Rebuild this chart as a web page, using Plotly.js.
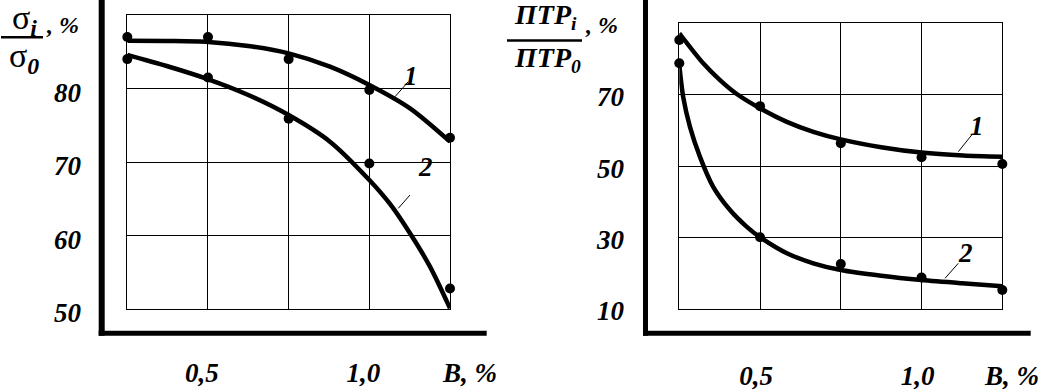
<!DOCTYPE html>
<html>
<head>
<meta charset="utf-8">
<script src="https://cdn.plot.ly/plotly-3.0.1.min.js"></script>
<style>html,body{margin:0;padding:0;background:#fff;}#chart{width:1040px;height:391px;}</style>
</head>
<body>
<div id="chart"></div>
<script>
// ---- data ----
const xPoints = [0.25, 0.5, 0.75, 1.0, 1.25];
const sigma1Points = [87.0, 87.0, 84.0, 79.8, 73.3];
const sigma2Points = [84.0, 81.5, 75.9, 69.8, 52.8];
const sigma1CurveX = [0.25, 0.372, 0.501, 0.625, 0.75, 0.878, 1.0, 1.126, 1.25];
const sigma1CurveY = [86.5, 86.46, 86.33, 85.78, 84.78, 82.97, 80.48, 77.3, 72.77];
const sigma2CurveX = [0.25, 0.372, 0.501, 0.625, 0.75, 0.878, 1.0, 1.064, 1.126, 1.188, 1.25];
const sigma2CurveY = [84.56, 83.06, 81.25, 79.12, 76.39, 72.77, 67.55, 64.29, 60.3, 55.76, 50.1];

const ptr1Points = [85.3, 66.8, 56.4, 52.5, 50.6];
const ptr2Points = [78.8, 30.1, 22.6, 18.8, 15.3];
const ptr1CurveX = [0.25, 0.324, 0.376, 0.428, 0.5, 0.583, 0.665, 0.75, 0.875, 1.0, 1.129, 1.25];
const ptr1CurveY = [87.2, 78.8, 74.1, 70.2, 66.2, 62.4, 59.6, 57.5, 55.3, 53.8, 53.0, 52.65];
const ptr2CurveX = [0.25, 0.262, 0.283, 0.314, 0.355, 0.407, 0.459, 0.5, 0.583, 0.665, 0.75, 0.875, 1.0, 1.125, 1.25];
const ptr2CurveY = [78.3, 69.4, 61.0, 52.6, 44.2, 37.7, 33.0, 30.1, 25.6, 22.8, 20.9, 19.3, 18.1, 17.2, 16.4];

const xTickVals = [0.5, 1.0];
const xTickText = ['0,5', '1,0'];
const ySigmaTickVals = [50, 60, 70, 80];
const ySigmaTickText = ['50', '60', '70', '80'];
const yPtrTickVals = [10, 30, 50, 70];
const yPtrTickText = ['10', '30', '50', '70'];
const xAxisLabel = 'В, %';
const curveNames = ['1', '2'];

// ---- helpers ----
const W = 1040, H = 391;
const px = x => x / W;
const py = y => 1 - y / H;
const SERIF = 'Liberation Serif, "Times New Roman", Times, serif';
const serifBI = (size) => ({family: SERIF, size: size, color: '#000', weight: 'bold', style: 'italic'});

const lineStyle = {color: '#000', width: 4.5, shape: 'spline', smoothing: 0.8};
const markerStyle = {color: '#000', size: 10};

const traces = [
  {x: sigma1CurveX, y: sigma1CurveY, mode: 'lines', line: lineStyle, xaxis: 'x', yaxis: 'y', cliponaxis: false, hoverinfo: 'skip'},
  {x: sigma2CurveX, y: sigma2CurveY, mode: 'lines', line: lineStyle, xaxis: 'x', yaxis: 'y', cliponaxis: false, hoverinfo: 'skip'},
  {x: xPoints, y: sigma1Points, mode: 'markers', marker: markerStyle, xaxis: 'x', yaxis: 'y', cliponaxis: false},
  {x: xPoints, y: sigma2Points, mode: 'markers', marker: markerStyle, xaxis: 'x', yaxis: 'y', cliponaxis: false},
  {x: ptr1CurveX, y: ptr1CurveY, mode: 'lines', line: lineStyle, xaxis: 'x2', yaxis: 'y2', cliponaxis: false, hoverinfo: 'skip'},
  {x: ptr2CurveX, y: ptr2CurveY, mode: 'lines', line: lineStyle, xaxis: 'x2', yaxis: 'y2', cliponaxis: false, hoverinfo: 'skip'},
  {x: xPoints, y: ptr1Points, mode: 'markers', marker: markerStyle, xaxis: 'x2', yaxis: 'y2', cliponaxis: false},
  {x: xPoints, y: ptr2Points, mode: 'markers', marker: markerStyle, xaxis: 'x2', yaxis: 'y2', cliponaxis: false}
];

const baseAxis = {
  showgrid: true, gridcolor: '#000', gridwidth: 1,
  showline: true, mirror: true, linecolor: '#000', linewidth: 1,
  zeroline: false, ticks: '', fixedrange: true,
  tickfont: serifBI(27)
};
const minorGrid = (tick0, dtick) => ({tick0: tick0, dtick: dtick, showgrid: true, gridcolor: '#000', gridwidth: 1, ticks: ''});

const layout = {
  width: W, height: H,
  margin: {l: 0, r: 0, t: 0, b: 0, pad: 0},
  paper_bgcolor: '#fff', plot_bgcolor: '#fff',
  showlegend: false,
  xaxis: Object.assign({}, baseAxis, {domain: [px(127.3), px(450)], range: [0.25, 1.25], tickvals: xTickVals, ticktext: xTickText, minor: minorGrid(0.25, 0.25), anchor: 'y', ticklabelstandoff: 40, ticklabelshift: -6}),
  yaxis: Object.assign({}, baseAxis, {domain: [py(309), py(15)], range: [50, 90], tickvals: ySigmaTickVals, ticktext: ySigmaTickText, minor: minorGrid(50, 10), anchor: 'x', ticklabelstandoff: 40, ticklabelshift: 4}),
  xaxis2: Object.assign({}, baseAxis, {domain: [px(679.3), px(1002.3)], range: [0.25, 1.25], tickvals: xTickVals, ticktext: xTickText, minor: minorGrid(0.25, 0.25), anchor: 'y2', ticklabelstandoff: 43, ticklabelshift: -4}),
  yaxis2: Object.assign({}, baseAxis, {domain: [py(309), py(23.3)], range: [10, 90], tickvals: yPtrTickVals, ticktext: yPtrTickText, minor: minorGrid(10, 20), anchor: 'x2', ticklabelstandoff: 49, ticklabelshift: 2}),
  shapes: [
    // thick frame lines
    {type: 'line', xref: 'paper', yref: 'paper', x0: px(101.7), x1: px(101.7), y0: py(335.7), y1: py(0), line: {color: '#000', width: 6}},
    {type: 'line', xref: 'paper', yref: 'paper', x0: px(98.7), x1: px(486.7), y0: py(333.3), y1: py(333.3), line: {color: '#000', width: 5}},
    {type: 'line', xref: 'paper', yref: 'paper', x0: px(645.5), x1: px(645.5), y0: py(335.7), y1: py(0), line: {color: '#000', width: 5}},
    {type: 'line', xref: 'paper', yref: 'paper', x0: px(643), x1: px(1030.7), y0: py(333.3), y1: py(333.3), line: {color: '#000', width: 5}},
    // fraction bars
    {type: 'line', xref: 'paper', yref: 'paper', x0: px(1), x1: px(43), y0: py(37.3), y1: py(37.3), line: {color: '#000', width: 2.5}},
    {type: 'line', xref: 'paper', yref: 'paper', x0: px(507), x1: px(582), y0: py(40.5), y1: py(40.5), line: {color: '#000', width: 2.5}},
    // leader lines for curve numbers
    {type: 'line', xref: 'paper', yref: 'paper', x0: px(395), x1: px(408.3), y0: py(96.7), y1: py(81.7), line: {color: '#000', width: 1}},
    {type: 'line', xref: 'paper', yref: 'paper', x0: px(398.3), x1: px(410), y0: py(208.3), y1: py(195), line: {color: '#000', width: 1}},
    {type: 'line', xref: 'paper', yref: 'paper', x0: px(958.3), x1: px(971.7), y0: py(151.7), y1: py(135), line: {color: '#000', width: 1}},
    {type: 'line', xref: 'paper', yref: 'paper', x0: px(945), x1: px(958.3), y0: py(278.3), y1: py(263.3), line: {color: '#000', width: 1}}
  ],
  annotations: [
    // left title
    {xref: 'paper', yref: 'paper', x: px(24), y: py(20), xanchor: 'center', yanchor: 'middle', showarrow: false, text: 'σ<sub><b><i>i</i></b></sub>', font: {family: SERIF, size: 34, color: '#000'}},
    {xref: 'paper', yref: 'paper', x: px(24), y: py(58), xanchor: 'center', yanchor: 'middle', showarrow: false, text: 'σ<sub><b><i>0</i></b></sub>', font: {family: SERIF, size: 34, color: '#000'}},
    {xref: 'paper', yref: 'paper', x: px(44), y: py(25), xanchor: 'left', yanchor: 'middle', showarrow: false, text: ', %', font: serifBI(24)},
    // right title
    {xref: 'paper', yref: 'paper', x: px(545), y: py(17), xanchor: 'center', yanchor: 'middle', showarrow: false, text: 'ПТР<sub>i</sub>', font: serifBI(28)},
    {xref: 'paper', yref: 'paper', x: px(547), y: py(60), xanchor: 'center', yanchor: 'middle', showarrow: false, text: 'ПТР<sub>0</sub>', font: serifBI(28)},
    {xref: 'paper', yref: 'paper', x: px(583), y: py(25), xanchor: 'left', yanchor: 'middle', showarrow: false, text: ', %', font: serifBI(24)},
    // x-axis labels
    {xref: 'paper', yref: 'paper', x: px(469), y: py(373), xanchor: 'center', yanchor: 'middle', showarrow: false, text: xAxisLabel, font: serifBI(27)},
    {xref: 'paper', yref: 'paper', x: px(1011), y: py(376), xanchor: 'center', yanchor: 'middle', showarrow: false, text: xAxisLabel, font: serifBI(27)},
    // curve numbers
    {xref: 'paper', yref: 'paper', x: px(411), y: py(76), xanchor: 'center', yanchor: 'middle', showarrow: false, text: curveNames[0], font: serifBI(27)},
    {xref: 'paper', yref: 'paper', x: px(425), y: py(167), xanchor: 'center', yanchor: 'middle', showarrow: false, text: curveNames[1], font: serifBI(27)},
    {xref: 'paper', yref: 'paper', x: px(977), y: py(126), xanchor: 'center', yanchor: 'middle', showarrow: false, text: curveNames[0], font: serifBI(27)},
    {xref: 'paper', yref: 'paper', x: px(965), y: py(253), xanchor: 'center', yanchor: 'middle', showarrow: false, text: curveNames[1], font: serifBI(27)}
  ]
};

Plotly.newPlot('chart', traces, layout, {staticPlot: true, displayModeBar: false});
</script>
</body>
</html>
